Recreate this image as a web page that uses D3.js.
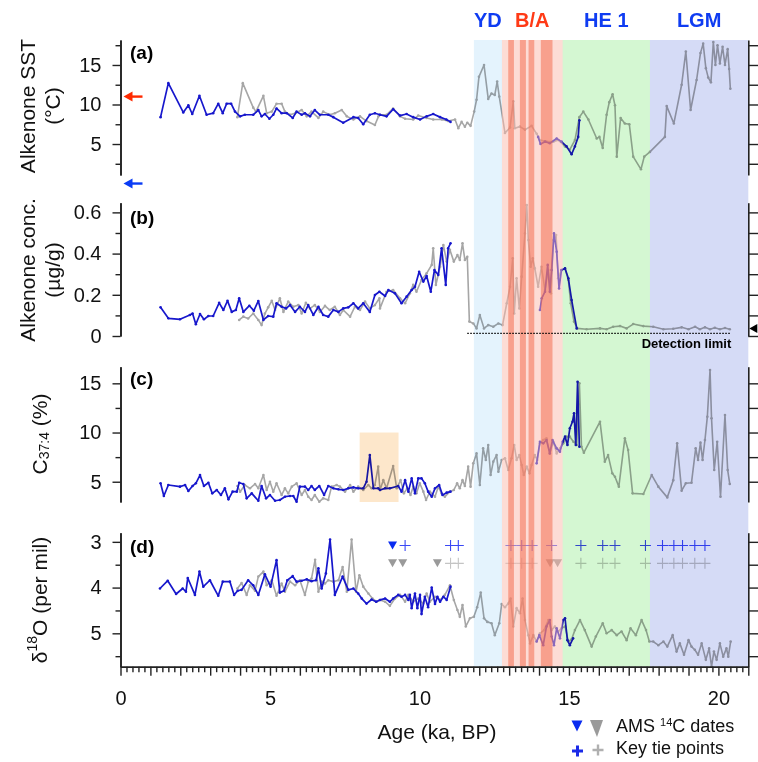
<!DOCTYPE html>
<html lang="en">
<head>
<meta charset="utf-8">
<title>Alkenone record</title>
<script src="https://cdn.jsdelivr.net/npm/d3@7"></script>
<style>
  body { margin: 0; background: #fff; }
  svg text { font-family: "Liberation Sans", Arial, sans-serif; }
  .band { mix-blend-mode: multiply; }
</style>
</head>
<body>
<script>
// size
var w = 758, h = 762;

// climate intervals (ka)
var ydBand = [11.82, 12.76];
var baBand = [12.76, 14.79];
var baStripes = [[12.97, 13.16], [13.36, 13.56], [13.65, 13.84], [14.06, 14.45]];
var he1Band = [14.79, 17.71];
var lgmBand = [17.71, 21.0];
var boxC = [8.0, 9.3];

// (a) alkenone SST, [age ka, degC]
var sstBlue1 = [[1.34,8.4],[1.6,12.7],[2.1,9.0],[2.27,9.9],[2.4,8.8],[2.64,11.1],[2.88,8.7],[3.1,8.9],[3.27,10.1],[3.42,8.9],[3.55,10.1],[3.7,10.1],[3.83,9.1],[4.0,8.5],[4.16,8.7],[4.44,8.7],[4.61,9.3],[4.72,8.5],[4.83,8.8],[4.98,8.2],[5.11,8.7],[5.22,9.5],[5.39,8.9],[5.56,8.9],[5.76,8.3],[5.89,9.1],[6.06,8.7],[6.17,8.9],[6.34,8.5],[6.5,9.3],[6.67,8.7],[6.95,8.7],[7.12,8.4],[7.45,7.7],[7.79,8.4],[7.95,8.3],[8.12,7.5],[8.34,8.7],[8.51,8.9],[8.68,8.7],[8.9,8.5],[9.12,9.4],[9.35,8.6],[9.57,8.8],[9.79,8.4],[10.02,8.1],[10.24,8.5],[10.46,8.8],[10.69,8.4],[10.9,8.1],[11.04,7.8]];
var sstBlue2 = [[13.97,5.9],[14.05,5.0],[14.2,5.3],[14.36,5.1],[14.59,5.7],[14.75,5.3],[14.92,4.7],[15.09,3.7],[15.2,4.7],[15.31,5.9],[15.35,8.0]];
var sstGrey = [[3.91,8.4],[4.09,12.7],[4.44,9.6],[4.53,9.1],[4.78,11.1],[4.89,8.9],[5.06,9.1],[5.22,10.1],[5.39,10.1],[5.5,9.1],[5.67,8.7],[5.84,8.9],[6.06,9.3],[6.23,8.5],[6.39,9.1],[6.62,8.3],[6.78,9.1],[7.0,8.7],[7.17,8.9],[7.4,9.3],[7.57,8.5],[7.79,8.1],[8.01,8.5],[8.23,7.9],[8.51,7.4],[8.63,8.5],[8.68,8.7],[8.9,8.7],[9.12,9.5],[9.35,8.5],[9.52,8.2],[9.79,8.1],[9.96,8.6],[10.24,8.3],[10.46,8.1],[10.75,8.1],[10.96,7.9],[11.19,8.1],[11.3,7.0],[11.41,7.8],[11.52,7.2],[11.6,7.7],[11.71,7.3],[11.83,9.1],[11.91,10.6],[11.99,13.5],[12.16,15.0],[12.3,10.7],[12.41,11.4],[12.52,11.2],[12.6,12.9],[12.67,11.0],[12.86,6.4],[13.03,7.1],[13.14,10.4],[13.19,7.0],[13.36,7.2],[13.53,6.8],[13.75,7.3],[13.92,6.3],[14.03,5.5],[14.25,5.3],[14.48,5.3],[14.65,5.5],[14.87,4.7],[15.03,4.3],[15.2,5.5],[15.35,8.4],[15.48,9.1],[15.65,8.1],[15.93,5.7],[16.02,5.9],[16.13,4.5],[16.26,8.7],[16.35,10.3],[16.46,11.3],[16.54,9.9],[16.6,3.4],[16.73,8.3],[16.87,7.6],[17.02,7.5],[17.15,3.4],[17.41,1.8],[17.52,3.4],[17.71,4.0],[18.21,5.9],[18.27,9.8],[18.51,7.6],[18.77,12.5],[18.91,16.7],[19.07,9.3],[19.27,13.1],[19.4,16.5],[19.49,17.7],[19.58,14.6],[19.66,13.4],[19.75,12.8],[19.83,17.9],[19.9,15.0],[19.97,17.5],[20.05,15.2],[20.14,17.3],[20.22,15.0],[20.31,17.0],[20.36,14.5],[20.4,12.0]];
var sstArrows = [{ v: 11.0, color: "#ff2a00" }, { v: 0.0, color: "#0a3cf5" }];

// (b) alkenone concentration, [age ka, ug/g]
var concBlue1 = [[1.34,0.139],[1.6,0.086],[1.99,0.081],[2.32,0.102],[2.41,0.109],[2.52,0.057],[2.66,0.107],[2.79,0.081],[2.94,0.097],[3.1,0.097],[3.3,0.161],[3.44,0.126],[3.58,0.171],[3.72,0.117],[3.86,0.126],[3.97,0.183],[4.11,0.117],[4.31,0.147],[4.46,0.123],[4.61,0.170],[4.78,0.078],[4.94,0.097],[5.11,0.094],[5.22,0.159],[5.39,0.142],[5.54,0.134],[5.67,0.150],[5.84,0.117],[6.0,0.142],[6.17,0.117],[6.28,0.150],[6.45,0.102],[6.62,0.142],[6.78,0.102],[6.95,0.094],[7.12,0.126],[7.29,0.117],[7.45,0.134],[7.62,0.139],[7.79,0.159],[7.95,0.134],[8.12,0.159],[8.34,0.117],[8.51,0.199],[8.66,0.215],[8.85,0.194],[8.96,0.223],[9.18,0.207],[9.4,0.159],[9.57,0.191],[9.74,0.223],[9.85,0.239],[9.99,0.312],[10.13,0.264],[10.24,0.291],[10.38,0.215],[10.5,0.320],[10.63,0.296],[10.74,0.426],[10.88,0.248],[10.96,0.426],[11.04,0.450]];
var concBlue2 = [[14.03,0.126],[14.09,0.183],[14.2,0.215],[14.29,0.345],[14.36,0.215],[14.42,0.320],[14.5,0.498],[14.59,0.409],[14.67,0.231],[14.75,0.320],[14.87,0.328],[14.98,0.280],[15.09,0.175],[15.26,0.037]];
var concGrey = [[3.97,0.078],[4.11,0.094],[4.27,0.085],[4.44,0.109],[4.61,0.078],[4.72,0.053],[4.83,0.109],[4.94,0.139],[5.06,0.171],[5.17,0.126],[5.33,0.183],[5.45,0.117],[5.61,0.167],[5.78,0.142],[5.95,0.150],[6.06,0.109],[6.2,0.161],[6.34,0.134],[6.5,0.150],[6.67,0.117],[6.84,0.146],[7.0,0.126],[7.17,0.142],[7.34,0.102],[7.45,0.126],[7.68,0.094],[7.84,0.142],[8.01,0.126],[8.18,0.167],[8.34,0.134],[8.51,0.150],[8.66,0.183],[8.68,0.134],[8.9,0.215],[9.12,0.223],[9.35,0.183],[9.52,0.159],[9.68,0.207],[9.79,0.248],[9.9,0.215],[10.07,0.272],[10.24,0.304],[10.41,0.345],[10.46,0.426],[10.55,0.248],[10.69,0.336],[10.8,0.442],[10.91,0.361],[11.02,0.418],[11.15,0.361],[11.27,0.393],[11.35,0.369],[11.44,0.450],[11.52,0.369],[11.6,0.385],[11.67,0.070],[11.8,0.061],[11.91,0.037],[12.02,0.102],[12.16,0.037],[12.3,0.053],[12.47,0.045],[12.64,0.061],[12.78,0.053],[12.92,0.159],[13.03,0.239],[13.12,0.377],[13.17,0.109],[13.25,0.280],[13.34,0.134],[13.42,0.288],[13.53,0.498],[13.59,0.636],[13.64,0.466],[13.72,0.336],[13.79,0.377],[13.86,0.328],[13.97,0.239],[14.08,0.336],[14.2,0.223],[14.31,0.320],[14.4,0.207],[14.48,0.466],[14.57,0.490],[14.64,0.280],[14.75,0.320],[14.87,0.328],[14.98,0.272],[15.06,0.159],[15.17,0.070],[15.28,0.037],[15.59,0.033],[16.04,0.037],[16.26,0.033],[16.48,0.045],[16.71,0.048],[16.93,0.037],[17.15,0.058],[17.49,0.048],[17.82,0.045],[18.16,0.033],[18.49,0.035],[18.77,0.042],[19.0,0.033],[19.22,0.045],[19.38,0.033],[19.55,0.042],[19.72,0.033],[19.88,0.040],[20.05,0.033],[20.22,0.039],[20.38,0.033]];
var detectionLimit = { v: 0.013, from: 11.6, to: 20.43 };
var coreTopConc = 0.037;

// (c) C37:4 percentage
var c374Blue1 = [[1.34,4.84],[1.45,3.55],[1.6,4.67],[1.99,4.5],[2.16,4.67],[2.27,4.06],[2.41,4.57],[2.52,4.84],[2.66,5.68],[2.79,4.57],[2.94,4.9],[3.07,3.82],[3.22,4.16],[3.36,3.65],[3.49,4.33],[3.61,3.21],[3.75,3.99],[3.89,3.99],[3.97,4.9],[4.11,4.77],[4.22,3.31],[4.39,3.82],[4.61,3.07],[4.72,4.57],[4.87,3.31],[5.0,3.65],[5.17,3.07],[5.33,3.14],[5.5,3.48],[5.67,3.55],[5.78,3.55],[5.89,2.97],[6.0,4.5],[6.17,4.5],[6.28,4.16],[6.39,4.57],[6.5,4.16],[6.65,4.57],[6.81,3.65],[6.95,4.57],[7.12,4.33],[7.29,4.23],[7.45,4.16],[7.62,4.33],[7.79,4.43],[7.95,4.33],[8.12,4.33],[8.23,5.0],[8.34,7.71],[8.46,4.33],[8.62,4.33],[8.68,4.16],[8.85,4.33],[9.01,4.33],[9.29,4.57],[9.4,3.99],[9.52,5.16],[9.63,3.99],[9.74,5.34],[9.85,3.82],[9.96,5.34],[10.07,5.34],[10.18,4.84],[10.29,3.99],[10.41,3.48],[10.52,4.33],[10.66,4.67],[10.77,3.65],[10.91,3.89],[11.04,3.99]];
var c374Blue2 = [[13.92,6.87],[14.03,9.07],[14.14,8.9],[14.25,9.24],[14.36,7.88],[14.45,9.24],[14.59,8.39],[14.7,8.05],[14.79,9.07],[14.87,9.58],[14.95,8.73],[15.03,10.43],[15.12,11.1],[15.17,11.95],[15.23,8.73],[15.29,15.16],[15.35,8.56]];
var c374Grey = [[3.91,4.57],[4.0,3.99],[4.16,4.67],[4.33,4.33],[4.5,4.77],[4.61,4.33],[4.78,5.68],[4.89,4.16],[5.0,5.0],[5.11,3.99],[5.22,4.84],[5.39,3.65],[5.5,4.33],[5.61,3.82],[5.73,4.5],[5.89,4.84],[6.06,3.65],[6.17,4.16],[6.28,3.48],[6.39,3.14],[6.5,3.65],[6.65,2.97],[6.78,3.31],[6.95,3.14],[7.06,4.5],[7.23,4.67],[7.34,4.5],[7.51,3.99],[7.68,4.67],[7.79,3.99],[7.95,4.5],[8.12,4.16],[8.29,4.67],[8.4,4.33],[8.51,4.67],[8.62,6.53],[8.68,4.16],[8.79,5.16],[8.9,4.33],[9.12,6.6],[9.24,4.33],[9.37,5.16],[9.48,3.82],[9.59,4.33],[9.7,3.65],[9.79,4.5],[9.9,3.82],[10.01,4.84],[10.13,3.99],[10.22,3.14],[10.35,3.99],[10.52,3.48],[10.63,4.5],[10.74,3.82],[10.85,3.48],[11.02,3.99],[11.15,4.16],[11.26,4.84],[11.35,4.33],[11.44,5.16],[11.52,4.57],[11.63,6.53],[11.71,4.5],[11.8,6.87],[11.91,7.88],[12.02,4.67],[12.13,8.39],[12.22,7.21],[12.3,8.73],[12.38,5.68],[12.47,7.04],[12.58,7.71],[12.64,6.02],[12.75,7.21],[12.86,7.38],[12.97,6.19],[13.08,7.38],[13.17,8.73],[13.25,7.21],[13.34,7.71],[13.42,6.7],[13.49,5.68],[13.59,6.53],[13.68,5.85],[13.75,6.7],[13.86,7.71],[13.94,7.21],[14.03,8.9],[14.14,9.24],[14.25,9.41],[14.36,7.88],[14.48,9.07],[14.59,7.88],[14.7,8.39],[14.81,8.9],[14.92,9.58],[15.03,9.58],[15.15,9.07],[15.26,8.73],[15.35,15.0],[15.42,8.56],[15.5,7.95],[16.04,11.1],[16.2,7.04],[16.31,7.71],[16.45,5.85],[16.54,5.51],[16.67,4.5],[16.87,9.41],[16.98,8.22],[17.13,3.82],[17.49,3.75],[17.77,5.68],[17.99,4.5],[18.29,3.41],[18.49,5.16],[18.62,8.9],[18.77,4.09],[18.91,4.84],[19.1,4.9],[19.24,8.39],[19.32,7.21],[19.4,8.97],[19.47,7.21],[19.55,9.24],[19.63,11.61],[19.72,16.35],[19.77,11.44],[19.86,6.19],[19.96,9.07],[20.07,3.48],[20.22,11.78],[20.31,6.19],[20.38,4.77]];

// (d) benthic d18O, per mil
var d18oBlue1 = [[1.32,4.02],[1.58,3.85],[1.86,4.14],[2.08,4.02],[2.19,4.09],[2.25,3.79],[2.49,4.16],[2.64,3.65],[2.77,3.98],[2.99,3.84],[3.27,4.18],[3.42,3.87],[3.66,3.87],[3.8,4.16],[3.92,4.07],[4.05,4.05],[4.27,3.84],[4.44,3.95],[4.61,4.16],[4.83,3.71],[5.02,3.98],[5.22,3.40],[5.33,4.11],[5.47,4.07],[5.58,3.84],[5.76,3.75],[5.89,3.87],[6.06,3.85],[6.23,3.82],[6.39,3.86],[6.54,3.84],[6.62,3.58],[6.73,4.02],[6.87,3.69],[7.01,2.95],[7.17,4.16],[7.43,3.76],[7.62,4.05],[7.79,4.02],[7.95,4.13],[8.07,4.24],[8.23,4.35],[8.4,4.26],[8.55,4.31],[8.68,4.27],[8.85,4.24],[9.01,4.31],[9.12,4.24],[9.29,4.16],[9.4,4.2],[9.52,4.16],[9.63,4.27],[9.68,4.16],[9.74,4.45],[9.85,4.13],[9.93,4.45],[10.02,4.16],[10.07,4.58],[10.18,4.2],[10.29,4.43],[10.41,4.0],[10.52,4.36],[10.6,4.2],[10.69,4.31],[10.8,4.2],[10.91,4.27],[11.04,3.98]];
var d18oBlue2 = [[13.92,5.18],[14.01,5.04],[14.14,5.26],[14.25,4.85],[14.36,4.71],[14.42,5.07],[14.5,5.26],[14.59,4.89],[14.7,5.11],[14.81,4.71],[14.87,4.67],[14.95,5.15],[15.03,5.26],[15.14,5.11]];
var d18oGrey = [[3.91,4.02],[4.05,3.9],[4.22,4.16],[4.33,3.95],[4.5,4.07],[4.61,3.76],[4.78,3.65],[4.89,3.95],[5.06,3.84],[5.22,4.18],[5.39,3.91],[5.5,4.09],[5.67,3.87],[5.84,3.95],[6.0,3.84],[6.17,4.16],[6.28,3.87],[6.39,3.80],[6.51,3.39],[6.62,4.09],[6.73,3.87],[6.84,3.91],[6.95,3.84],[7.12,3.87],[7.29,3.84],[7.43,3.55],[7.57,4.09],[7.73,2.95],[7.88,4.09],[7.99,3.73],[8.12,3.98],[8.29,4.13],[8.43,4.24],[8.57,4.31],[8.68,4.27],[8.85,4.31],[9.01,4.4],[9.18,4.24],[9.35,4.16],[9.52,4.31],[9.63,4.16],[9.79,4.31],[9.96,4.24],[10.13,4.35],[10.24,4.13],[10.35,4.31],[10.52,4.2],[10.69,4.27],[10.85,4.16],[11.02,3.95],[11.15,4.27],[11.27,4.49],[11.35,4.64],[11.44,4.38],[11.55,4.85],[11.69,4.67],[11.82,4.64],[11.93,4.43],[12.05,4.11],[12.16,4.67],[12.27,4.75],[12.41,4.78],[12.52,5.04],[12.67,4.78],[12.75,4.36],[12.86,4.43],[12.97,4.35],[13.05,4.24],[13.14,4.85],[13.25,4.45],[13.36,4.56],[13.45,4.24],[13.53,4.71],[13.64,5.04],[13.7,5.22],[13.81,5.04],[13.92,5.18],[14.03,5.0],[14.17,4.93],[14.31,4.71],[14.42,4.93],[14.53,4.85],[14.64,4.96],[14.75,4.89],[14.87,4.85],[14.98,5.18],[15.09,5.13],[15.2,4.93],[15.37,4.71],[15.53,4.93],[15.76,5.29],[15.9,5.07],[16.13,4.78],[16.26,5.0],[16.43,4.93],[16.6,5.04],[16.76,4.96],[16.93,5.15],[17.06,4.89],[17.24,5.04],[17.43,4.71],[17.58,4.93],[17.69,5.18],[17.82,5.18],[17.99,5.26],[18.16,5.18],[18.29,5.29],[18.47,5.04],[18.6,5.40],[18.71,5.22],[18.85,5.47],[19.0,5.15],[19.1,5.29],[19.21,5.36],[19.32,5.47],[19.44,5.22],[19.58,5.58],[19.69,5.33],[19.77,5.73],[19.85,5.40],[19.94,5.58],[20.05,5.22],[20.16,5.51],[20.27,5.33],[20.33,5.51],[20.41,5.18]];

// age control (ka); drawn as two rows in panel (d)
var amsBlue = [9.10];
var amsGrey = [9.10, 9.44, 10.6, 14.37, 14.62];
var tieBlue = [9.52, 11.04, 11.3, 13.06, 13.42, 13.77, 14.42, 15.40, 16.13, 16.54, 17.56, 18.13, 18.51, 18.80, 19.21, 19.55];
var tieGrey = [11.04, 11.3, 13.06, 13.42, 13.77, 15.40, 16.13, 16.54, 17.56, 18.13, 18.51, 18.80, 19.21, 19.55];
var rowBlue = 3.08, rowGrey = 3.47;

var blue = "#1717cc", grey = "#a6a6a6";

//Scales
var x = d3.scaleLinear().domain([0, 21]).range([120.5, 748.3]);
var yA = d3.scaleLinear().domain([1.08, 18.16]).range([175, 40]);
var yB = d3.scaleLinear().domain([0, 0.647]).range([336, 202.7]);
var yC = d3.scaleLinear().domain([2.94, 16.69]).range([502, 366.7]);
var yD = d3.scaleLinear().domain([2.8, 5.73]).range([532.7, 666.7]);

var svg = d3.select("body").append("svg")
	.attr("width", w)
	.attr("height", h);

svg.append("rect").attr("width", w).attr("height", h).attr("fill", "#fff");

//Series lines with small dots
function drawSeries(data, y, color, sw) {
	var line = d3.line().x(function(d) { return x(d[0]); }).y(function(d) { return y(d[1]); });
	svg.append("path").datum(data)
		.attr("d", line)
		.attr("fill", "none")
		.attr("stroke", color)
		.attr("stroke-width", sw)
		.attr("stroke-linejoin", "round");
	svg.append("g").selectAll("circle").data(data).enter().append("circle")
		.attr("cx", function(d) { return x(d[0]); })
		.attr("cy", function(d) { return y(d[1]); })
		.attr("r", 1.3)
		.attr("fill", color);
}

drawSeries(sstGrey, yA, grey, 1.6);
drawSeries(sstBlue1, yA, blue, 1.7);
drawSeries(sstBlue2, yA, blue, 1.7);
drawSeries(concGrey, yB, grey, 1.6);
drawSeries(concBlue1, yB, blue, 1.7);
drawSeries(concBlue2, yB, blue, 1.7);
drawSeries(c374Grey, yC, grey, 1.6);
drawSeries(c374Blue1, yC, blue, 1.7);
drawSeries(c374Blue2, yC, blue, 1.7);
drawSeries(d18oGrey, yD, grey, 1.6);
drawSeries(d18oBlue1, yD, blue, 1.7);
drawSeries(d18oBlue2, yD, blue, 1.7);

//Age control markers
function tri(cx, cy, wd, ht) {
	return "M" + (cx - wd / 2) + "," + (cy - ht / 2) + "L" + (cx + wd / 2) + "," + (cy - ht / 2) + "L" + cx + "," + (cy + ht / 2) + "Z";
}
function plus(cx, cy, s) {
	return "M" + (cx - s) + "," + cy + "H" + (cx + s) + "M" + cx + "," + (cy - s) + "V" + (cy + s);
}
svg.append("g").selectAll("path").data(amsBlue).enter().append("path")
	.attr("d", function(d) { return tri(x(d), yD(rowBlue), 9, 8); }).attr("fill", "#0a2cf0");
svg.append("g").selectAll("path").data(amsGrey).enter().append("path")
	.attr("d", function(d) { return tri(x(d), yD(rowGrey), 9, 8); }).attr("fill", "#9a9a9a");
svg.append("g").selectAll("path").data(tieBlue).enter().append("path")
	.attr("d", function(d) { return plus(x(d), yD(rowBlue), 5.5); })
	.attr("stroke", "#3a48f5").attr("stroke-width", 1.1).attr("fill", "none");
svg.append("g").selectAll("path").data(tieGrey).enter().append("path")
	.attr("d", function(d) { return plus(x(d), yD(rowGrey), 5.5); })
	.attr("stroke", "#c4c4c4").attr("stroke-width", 1.1).attr("fill", "none");

//Shaded intervals: multiply for the pale ones, translucent for B/A
var bandTop = 40, bandBottom = 666.7;
function band(r, color, alpha) {
	var rc = svg.append("rect")
		.attr("x", x(r[0])).attr("width", x(r[1]) - x(r[0]))
		.attr("y", bandTop).attr("height", bandBottom - bandTop)
		.attr("fill", color);
	if (alpha) rc.attr("fill-opacity", alpha);
	else rc.attr("class", "band");
}
band(ydBand, "#e4f3fd");
band(baBand, "#fbb9ab", 0.5);
baStripes.forEach(function(s) { band(s, "#f36445", 0.5); });
band(he1Band, "#d4f7d2");
band(lgmBand, "#d5dbf6");
svg.append("rect").attr("class", "band")
	.attr("x", x(boxC[0])).attr("width", x(boxC[1]) - x(boxC[0]))
	.attr("y", yC(10)).attr("height", yC.range()[0] - yC(10))
	.attr("fill", "#fde7cb");

//Interval names
var heads = [
	{ t: "YD", r: ydBand, c: "#0f3cf2" },
	{ t: "B/A", r: baBand, c: "#ff3a16" },
	{ t: "HE 1", r: he1Band, c: "#0f3cf2" },
	{ t: "LGM", r: lgmBand, c: "#0f3cf2" }
];
svg.selectAll("text.head").data(heads).enter().append("text")
	.attr("class", "head")
	.attr("x", function(d) { return x((d.r[0] + d.r[1]) / 2); })
	.attr("y", 27)
	.attr("text-anchor", "middle")
	.attr("font-size", 20).attr("font-weight", "bold")
	.attr("fill", function(d) { return d.c; })
	.text(function(d) { return d.t; });

//Detection limit
svg.append("line")
	.attr("x1", x(detectionLimit.from)).attr("x2", x(detectionLimit.to))
	.attr("y1", yB(detectionLimit.v)).attr("y2", yB(detectionLimit.v))
	.attr("stroke", "#000").attr("stroke-width", 1.2).attr("stroke-dasharray", "1.5,1.5");
svg.append("text")
	.attr("x", x(detectionLimit.to)).attr("y", yB(detectionLimit.v) + 15)
	.attr("text-anchor", "end").attr("font-size", 13).attr("font-weight", "bold")
	.text("Detection limit");

//Axes
function styleAxis(g) {
	g.selectAll("path.domain").attr("stroke", "#222").attr("stroke-width", 1.6);
	g.selectAll(".tick line").attr("stroke", "#222").attr("stroke-width", 1.4);
	g.selectAll(".tick text").attr("font-size", 20).attr("fill", "#111")
		.attr("font-family", "'Liberation Sans', Arial, sans-serif");
}
function yAxes(y, major, minor, labels, fmt) {
	var xl = x.range()[0], xr = x.range()[1];
	var gMin = svg.append("g").attr("transform", "translate(" + xl + ",0)")
		.call(d3.axisLeft(y).tickValues(minor).tickSize(5).tickSizeOuter(0).tickFormat(""));
	styleAxis(gMin);
	var gMaj = svg.append("g").attr("transform", "translate(" + xl + ",0)")
		.call(d3.axisLeft(y).tickValues(major).tickSize(8).tickSizeOuter(0).tickPadding(11)
			.tickFormat(function(d) { return labels.indexOf(d) >= 0 ? fmt(d) : ""; }));
	styleAxis(gMaj);
	var gR = svg.append("g").attr("transform", "translate(" + xr + ",0)")
		.call(d3.axisRight(y).tickValues(major.concat(minor)).tickSize(10).tickSizeOuter(0).tickFormat(""));
	styleAxis(gR);
}
yAxes(yA, [5, 10, 15], [2.5, 7.5, 12.5, 17.5], [5, 10, 15], d3.format("d"));
yAxes(yB, [0, 0.2, 0.4, 0.6], [0.1, 0.3, 0.5], [0, 0.2, 0.4, 0.6], function(d) { return d === 0 ? "0" : d3.format(".1f")(d); });
yAxes(yC, [5, 10, 15], [7.5, 12.5], [5, 10, 15], d3.format("d"));
yAxes(yD, [3, 4, 5], [3.5, 4.5, 5.5], [3, 4, 5], d3.format("d"));

var xMin = svg.append("g").attr("transform", "translate(0," + bandBottom + ")")
	.call(d3.axisBottom(x).tickValues(d3.range(0, 105).map(function(i) { return i * 0.2; }).filter(function(v) { return Math.abs(v - Math.round(v)) > 0.01; }))
		.tickSize(5.5).tickSizeOuter(0).tickFormat(""));
styleAxis(xMin);
var xMaj = svg.append("g").attr("transform", "translate(0," + bandBottom + ")")
	.call(d3.axisBottom(x).tickValues(d3.range(0, 22)).tickSize(9).tickSizeOuter(0).tickPadding(15)
		.tickFormat(function(d) { return d % 5 === 0 ? d : ""; }));
styleAxis(xMaj);

//SST reference arrows
svg.append("g").selectAll("g").data(sstArrows).enter().append("g")
	.each(function(d) {
		var g = d3.select(this), yy = yA(d.v), x0 = x.range()[0] + 3;
		g.append("line").attr("x1", x0 + 6).attr("x2", x0 + 19).attr("y1", yy).attr("y2", yy)
			.attr("stroke", d.color).attr("stroke-width", 2.4);
		g.append("path").attr("d", "M" + x0 + "," + yy + "L" + (x0 + 9) + "," + (yy - 5) + "L" + (x0 + 9) + "," + (yy + 5) + "Z")
			.attr("fill", d.color);
	});

//Core-top marker on right of panel (b)
var xr = x.range()[1];
svg.append("path")
	.attr("d", "M" + (xr + 1) + "," + yB(coreTopConc) + "L" + (xr + 9) + "," + (yB(coreTopConc) - 4.5) + "L" + (xr + 9) + "," + (yB(coreTopConc) + 4.5) + "Z")
	.attr("fill", "#000");

//Panel letters
var letters = [{ t: "(a)", y: yA.range()[1] + 19 }, { t: "(b)", y: yB.range()[1] + 21 }, { t: "(c)", y: yC.range()[1] + 18 }, { t: "(d)", y: yD.range()[0] + 20 }];
svg.selectAll("text.lab").data(letters).enter().append("text")
	.attr("class", "lab")
	.attr("x", 130).attr("y", function(d) { return d.y; })
	.attr("font-size", 19).attr("font-weight", "bold")
	.text(function(d) { return d.t; });

//Y titles
function yTitle(lines, cy) {
	lines.forEach(function(l) {
		var t = svg.append("text")
			.attr("transform", "translate(" + l.x + "," + cy + ") rotate(-90)")
			.attr("text-anchor", "middle").attr("dominant-baseline", "central")
			.attr("font-size", 21).attr("fill", "#111");
		l.parts.forEach(function(p) {
			var s = t.append("tspan").text(p.s);
			if (p.size) s.attr("font-size", p.size);
			if (p.dy) s.attr("dy", p.dy);
		});
	});
}
yTitle([{ x: 27, parts: [{ s: "Alkenone SST" }] }, { x: 52, parts: [{ s: "(°C)" }] }], 106);
yTitle([{ x: 27, parts: [{ s: "Alkenone conc." }] }, { x: 52, parts: [{ s: "(µg/g)" }] }], 270);
yTitle([{ x: 39, parts: [{ s: "C" }, { s: "37:4", size: 14, dy: 5 }, { s: " (%)", dy: -5 }] }], 434);
yTitle([{ x: 39, parts: [{ s: "δ" }, { s: "18", size: 14, dy: -7 }, { s: "O (per mil)", dy: 7 }] }], 600);

//X title
svg.append("text")
	.attr("x", 437).attr("y", 739)
	.attr("text-anchor", "middle").attr("font-size", 21).attr("fill", "#111")
	.text("Age (ka, BP)");

//Legend
var lg = svg.append("g");
lg.append("path").attr("d", tri(577, 726, 11, 11)).attr("fill", "#0a2cf0");
lg.append("path").attr("d", "M590,720L603,720L597,737Z").attr("fill", "#9a9a9a");
lg.append("path").attr("d", plus(577.5, 751, 5.5)).attr("stroke", "#1a2ae8").attr("stroke-width", 3).attr("fill", "none");
lg.append("path").attr("d", plus(598, 750, 5.5)).attr("stroke", "#b0b0b0").attr("stroke-width", 2.4).attr("fill", "none");
var t1 = lg.append("text").attr("x", 616).attr("y", 732).attr("font-size", 18).attr("fill", "#111");
t1.append("tspan").text("AMS ");
t1.append("tspan").text("14").attr("font-size", 11).attr("dy", -6);
t1.append("tspan").text("C dates").attr("dy", 6);
lg.append("text").attr("x", 616).attr("y", 754).attr("font-size", 18).attr("fill", "#111").text("Key tie points");
</script>
</body>
</html>
